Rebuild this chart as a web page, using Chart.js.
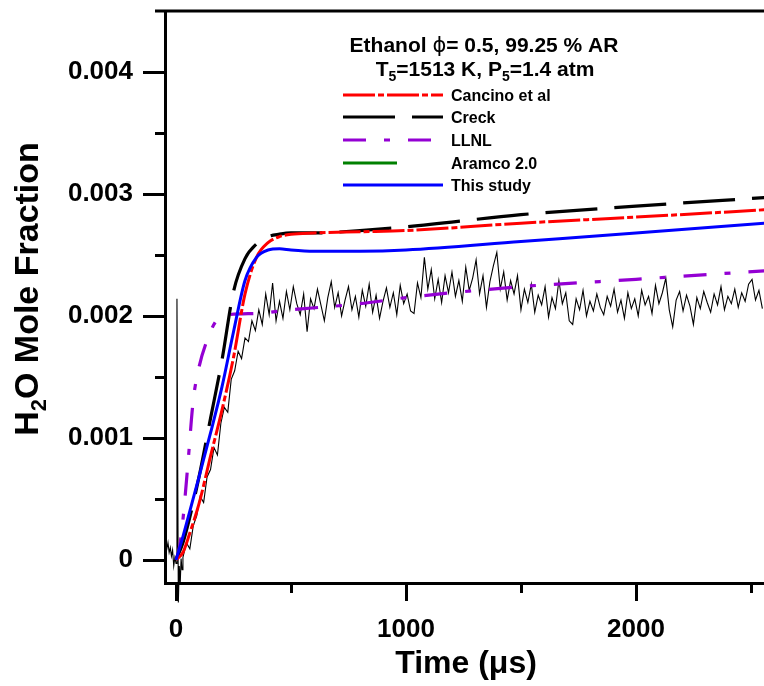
<!DOCTYPE html>
<html>
<head>
<meta charset="utf-8">
<script src="https://cdn.jsdelivr.net/npm/chart.js@4.4.1/dist/chart.umd.min.js"></script>
<style>
html,body{margin:0;padding:0;background:#fff;}
#wrap{width:764px;height:686px;position:relative;}
</style>
</head>
<body>
<div id="wrap"><canvas id="c"></canvas></div>
<script>
// ---------- DATA ----------
const xTickValues = [0, 500, 1000, 1500, 2000, 2500];
const xTickLabels = ['0', '', '1000', '', '2000', ''];
const yTickValues = [0, 0.0005, 0.001, 0.0015, 0.002, 0.0025, 0.003, 0.0035, 0.004];
const yTickLabels = ['0', '', '0.001', '', '0.002', '', '0.003', '', '0.004'];

const modelTime = [0, 30, 60, 100, 150, 200, 250, 300, 350, 400, 450, 500, 600, 800, 1000, 1500, 2000, 2560];
const cancinoH2O = [0, 0.00006, 0.00022, 0.00046, 0.00085, 0.00123, 0.00166, 0.00218, 0.00248, 0.0026, 0.00265, 0.00267, 0.00268, 0.00269, 0.0027, 0.00276, 0.00281, 0.00287];
const creckH2O   = [0, 0.00014, 0.00035, 0.00068, 0.00116, 0.00164, 0.0022, 0.00247, 0.00259, 0.00265, 0.00267, 0.00268, 0.00268, 0.0027, 0.00273, 0.00283, 0.0029, 0.00297];
const studyH2O   = [0, 0.00019, 0.0004, 0.00068, 0.00104, 0.00142, 0.00187, 0.00229, 0.00248, 0.00254, 0.00255, 0.00254, 0.00253, 0.00253, 0.00254, 0.00261, 0.00268, 0.00276];
const llnlTime   = [0, 15, 30, 50, 75, 100, 135, 175, 230, 350, 500, 800, 1000, 1500, 2000, 2560];
const llnlH2O    = [0, 0.0001, 0.00033, 0.00075, 0.00131, 0.00158, 0.0018, 0.00196, 0.00201, 0.00202, 0.00205, 0.0021, 0.00215, 0.00224, 0.0023, 0.00237];
const aramcoTime = [];
const aramcoH2O  = [];

const expTime = [-45,-40,-35,-30,-25,-20,-15,-10,-5,0,4,10,14,18,22,26,
 30,45,60,75,90,105,120,135,150,165,180,195,210,225,240,255,270,285,300,315,330,345,360,375,390,405,420,435,
 450,465,480,495,510,525,540,555,570,585,600,615,630,645,660,675,690,705,720,735,750,765,780,795,810,825,840,855,870,885,900,915,930,945,960,975,990,
 1005,1020,1035,1050,1065,1080,1095,1110,1125,1140,1155,1170,1185,1200,1215,1230,1245,1260,1275,1290,1305,1320,1335,1350,1365,1380,1395,1410,1425,1440,1455,1470,1485,1500,
 1515,1530,1545,1560,1575,1590,1605,1620,1635,1650,1665,1680,1695,1710,1725,1740,1755,1770,1785,1800,1815,1830,1845,1860,1875,1890,1905,1920,1935,1950,1965,1980,1995,2010,
 2025,2040,2055,2070,2085,2100,2115,2130,2145,2160,2175,2190,2205,2220,2235,2250,2265,2280,2295,2310,2325,2340,2355,2370,2385,2400,2415,2430,2445,2460,2475,2490,2505,2520,2535,2550];
const expH2O = [0.00013,0.00009,0.00014,0.00006,0.0001,0.00003,0.00008,-0.00005,0.00002,-0.00003,0.00214,-0.00035,-0.00005,-0.0002,0.00001,-0.00008,
 0.00002,0.00014,0.00009,0.00028,0.00036,0.00052,0.00047,0.00068,0.00074,0.00092,0.00086,0.00112,0.00125,0.00121,0.00148,0.00155,0.00171,0.00165,0.00182,0.00179,0.00196,0.00188,0.00205,0.00193,0.00218,0.00201,0.00227,0.00196,
 0.00212,0.00198,0.0022,0.00205,0.00224,0.0021,0.00201,0.00218,0.00187,0.00214,0.00206,0.00222,0.00209,0.00196,0.00215,0.00228,0.00207,0.00219,0.002,0.00213,0.00224,0.00205,0.00216,0.00199,0.00221,0.00208,0.00226,0.00203,0.00217,0.00198,0.00212,0.00223,0.00207,0.00219,0.00201,0.00225,0.0021,
 0.00218,0.00204,0.00202,0.00227,0.00215,0.00248,0.00222,0.00238,0.00214,0.0023,0.00211,0.00233,0.00219,0.00236,0.00216,0.00229,0.00212,0.0024,0.00221,0.00231,0.00246,0.00218,0.00233,0.00207,0.00228,0.00241,0.00252,0.00222,0.00236,0.00213,0.00229,0.00218,0.00233,0.00205,
 0.00222,0.00211,0.00226,0.00203,0.00217,0.00209,0.00224,0.00199,0.00215,0.00206,0.00229,0.0021,0.00219,0.00196,0.00193,0.00214,0.00205,0.00221,0.002,0.00212,0.00204,0.00218,0.00207,0.00201,0.00216,0.00208,0.00222,0.00203,0.00213,0.00198,0.00219,0.00206,0.00214,0.002,
 0.00221,0.00209,0.00216,0.00202,0.00225,0.0021,0.00219,0.00231,0.00205,0.00191,0.00213,0.0022,0.00204,0.00217,0.00208,0.00193,0.00215,0.00206,0.0022,0.00211,0.00203,0.00218,0.00209,0.00224,0.00205,0.00216,0.0021,0.00222,0.00207,0.00219,0.00212,0.00226,0.0023,0.00213,0.00221,0.00206];

// ---------- CHART ----------
const FONT = '"Liberation Sans", Arial, sans-serif';
const pts = (xs, ys) => xs.map((t, i) => ({x: t, y: ys[i]}));

const series = [
  {label: 'Cancino et al', data: pts(modelTime, cancinoH2O), color: '#ff0000', dash: [32, 3, 6, 3], width: 3, order: 1, legLen: 100},
  {label: 'Creck', data: pts(modelTime, creckH2O), color: '#000000', dash: [52, 17], width: 3.2, order: 2, legLen: 100},
  {label: 'LLNL', data: pts(llnlTime, llnlH2O), color: '#9400d3', dash: [23, 18, 6, 18], width: 3.2, order: 3, legLen: 88},
  {label: 'Aramco 2.0', data: pts(aramcoTime, aramcoH2O), color: '#008000', dash: [], width: 3, order: 4, legLen: 54},
  {label: 'This study', data: pts(modelTime, studyH2O), color: '#0000ff', dash: [], width: 3, order: 0, legLen: 100}
];

const datasets = series.map(s => ({
  label: s.label, data: s.data, borderColor: s.color, backgroundColor: s.color,
  borderDash: s.dash, borderWidth: s.width, pointRadius: 0, fill: false,
  cubicInterpolationMode: 'monotone', order: s.order
}));
datasets.push({
  label: 'Experiment', data: pts(expTime, expH2O), borderColor: '#000', borderWidth: 1.1,
  pointRadius: 0, tension: 0, fill: false, order: 10, clip: false
});

const decor = {
  id: 'decor',
  afterDraw(chart) {
    const {ctx, chartArea: ca, scales: {x, y}} = chart;
    ctx.save();
    ctx.strokeStyle = '#000';
    ctx.lineWidth = 3;
    ctx.lineCap = 'butt';
    // top frame line
    ctx.beginPath(); ctx.moveTo(ca.left - 10, ca.top); ctx.lineTo(ca.right, ca.top); ctx.stroke();
    // y ticks
    yTickValues.forEach((v, i) => {
      const py = Math.round(y.getPixelForValue(v)) + 0.5;
      const len = yTickLabels[i] ? 22 : 10;
      ctx.beginPath(); ctx.moveTo(ca.left - len, py); ctx.lineTo(ca.left, py); ctx.stroke();
    });
    // x ticks
    xTickValues.forEach((v, i) => {
      const px = Math.round(x.getPixelForValue(v)) + 0.5;
      const len = xTickLabels[i] ? 18 : 10;
      ctx.beginPath(); ctx.moveTo(px, ca.bottom); ctx.lineTo(px, ca.bottom + len); ctx.stroke();
    });

    ctx.fillStyle = '#000';
    ctx.textBaseline = 'alphabetic';
    // x title
    ctx.font = 'bold 32px ' + FONT;
    ctx.textAlign = 'center';
    ctx.fillText('Time (\u03bcs)', 466, 673);

    // y title with subscript
    ctx.save();
    ctx.translate(38, 289);
    ctx.rotate(-Math.PI / 2);
    ctx.textAlign = 'left';
    const big = 'bold 34px ' + FONT, small = 'bold 22px ' + FONT;
    ctx.font = big; const wH = ctx.measureText('H').width; const wR = ctx.measureText('O Mole Fraction').width;
    ctx.font = small; const w2 = ctx.measureText('2').width;
    let sx = -(wH + w2 + wR) / 2;
    ctx.font = big; ctx.fillText('H', sx, 0);
    ctx.font = small; ctx.fillText('2', sx + wH, 8);
    ctx.font = big; ctx.fillText('O Mole Fraction', sx + wH + w2, 0);
    ctx.restore();

    // legend title
    const tb = 'bold 21px ' + FONT, tn = '21px "DejaVu Sans", ' + FONT, ts = 'bold 14px ' + FONT;
    const drawRuns = (runs, cx, base) => {
      let total = 0;
      runs.forEach(r => { ctx.font = r.f; r.w = ctx.measureText(r.t).width; total += r.w; });
      let px = cx - total / 2;
      ctx.textAlign = 'left';
      runs.forEach(r => { ctx.font = r.f; ctx.fillText(r.t, px, base + (r.dy || 0)); px += r.w; });
    };
    drawRuns([{t: 'Ethanol ', f: tb}, {t: '\u03d5', f: tn}, {t: '= 0.5, 99.25 % AR', f: tb}], 484, 52);
    drawRuns([{t: 'T', f: tb}, {t: '5', f: ts, dy: 5}, {t: '=1513 K, P', f: tb}, {t: '5', f: ts, dy: 5}, {t: '=1.4 atm', f: tb}], 485, 76);

    // legend entries
    const rows = [95, 117, 140, 163, 185];
    series.forEach((s, i) => {
      const ry = rows[i];
      ctx.strokeStyle = s.color;
      ctx.lineWidth = 3;
      ctx.setLineDash(s.dash);
      ctx.beginPath(); ctx.moveTo(343, ry); ctx.lineTo(343 + s.legLen, ry); ctx.stroke();
      ctx.setLineDash([]);
      ctx.font = 'bold 16px ' + FONT;
      ctx.textAlign = 'left';
      ctx.fillText(s.label, 451, ry + 6);
    });
    ctx.restore();
  }
};

new Chart(document.getElementById('c'), {
  type: 'line',
  data: {datasets},
  options: {
    responsive: true,
    maintainAspectRatio: false,
    animation: false,
    layout: {padding: {top: 11, right: 0, left: 0, bottom: 0}},
    plugins: {legend: {display: false}, tooltip: {enabled: false}},
    scales: {
      x: {
        type: 'linear', min: -48, max: 2557,
        afterBuildTicks: s => { s.ticks = xTickValues.map(v => ({value: v})); },
        afterFit: s => { s.height = 103; s.paddingLeft = 0; s.paddingRight = 0; },
        grid: {display: true, drawOnChartArea: false, drawTicks: true, tickLength: 18, color: 'rgba(0,0,0,0)'},
        border: {display: true, color: '#000', width: 3},
        ticks: {
          autoSkip: false, maxRotation: 0, padding: 13, color: '#000',
          font: {family: FONT, size: 26, weight: 'bold'},
          callback: (v, i) => xTickLabels[i]
        }
      },
      y: {
        type: 'linear', min: -0.00019, max: 0.0045,
        afterBuildTicks: s => { s.ticks = yTickValues.map(v => ({value: v})); },
        afterFit: s => { s.width = 165; s.paddingTop = 0; s.paddingBottom = 0; },
        grid: {display: true, drawOnChartArea: false, drawTicks: true, tickLength: 22, color: 'rgba(0,0,0,0)'},
        border: {display: true, color: '#000', width: 3},
        ticks: {
          autoSkip: false, padding: 10, color: '#000',
          font: {family: FONT, size: 26, weight: 'bold'},
          callback: (v, i) => yTickLabels[i]
        }
      }
    }
  },
  plugins: [decor]
});
</script>
</body>
</html>
